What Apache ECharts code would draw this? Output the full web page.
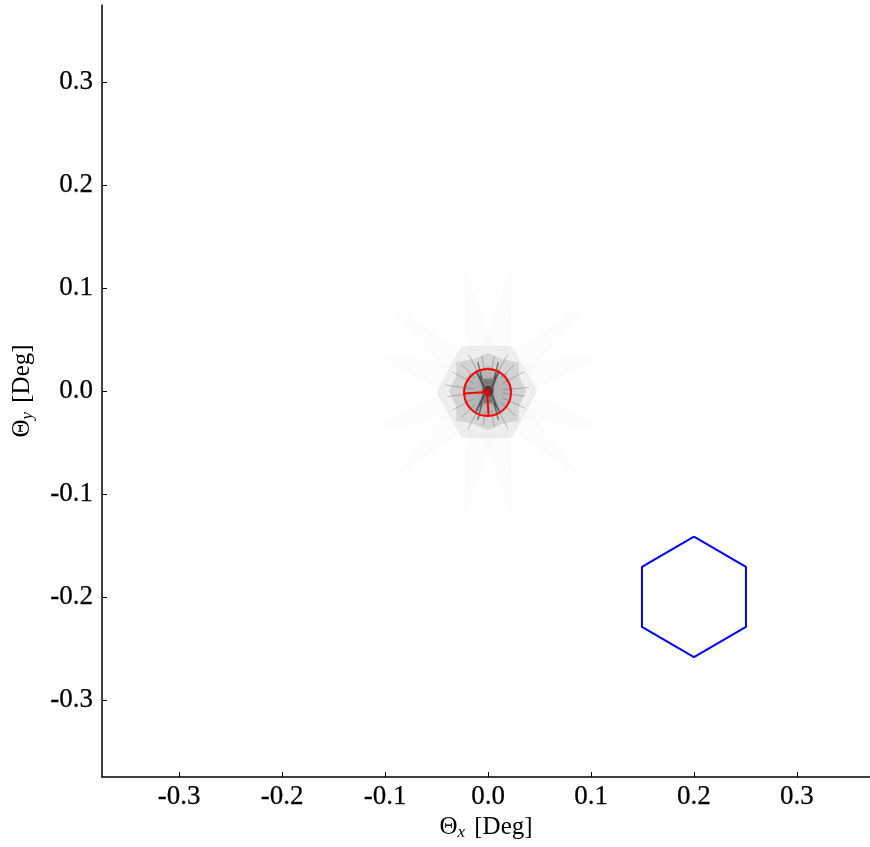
<!DOCTYPE html>
<html>
<head>
<meta charset="utf-8">
<script src="https://cdn.jsdelivr.net/npm/echarts@6/dist/echarts.min.js"></script>
<style>html,body{margin:0;padding:0;background:#fff}#c{width:870px;height:847px}</style>
</head>
<body>
<div id="c"></div>
<script>
// ---- data (degrees) ----
const xTicks = [-0.3, -0.2, -0.1, 0.0, 0.1, 0.2, 0.3];
const yTicks = [-0.3, -0.2, -0.1, 0.0, 0.1, 0.2, 0.3];
const xRange = [-0.375, 0.371];
const yRange = [-0.375, 0.375];

// field-of-view hexagon (blue)
const fovHex = [[0.2, -0.1415], [0.2505, -0.1708], [0.2505, -0.2292], [0.2, -0.2585], [0.1495, -0.2292], [0.1495, -0.1708], [0.2, -0.1415]];

// faint PSF halo: hexagon + 12 diffraction spikes (tips)
const haloHex = [[0.048, 0.0], [0.023, 0.044], [-0.026, 0.044], [-0.050, -0.001], [-0.026, -0.046], [0.023, -0.046]];
const spikeTips = [[-0.024, 0.125], [0.024, 0.125], [-0.098, 0.086], [-0.121, 0.040], [-0.121, -0.041], [-0.095, -0.087],
                   [-0.024, -0.126], [0.024, -0.126], [0.095, -0.087], [0.121, -0.041], [0.121, 0.040], [0.098, 0.086]];
// medium grey core (lobed)
const corePoly = [[0.037, 0.000], [0.030, 0.014], [0.030, 0.028], [0.014, 0.031], [0.000, 0.037], [-0.014, 0.031], [-0.031, 0.028],
                  [-0.031, 0.014], [-0.038, 0.000], [-0.031, -0.015], [-0.031, -0.029], [-0.014, -0.032], [0.000, -0.038],
                  [0.014, -0.032], [0.030, -0.029], [0.030, -0.015]];
const innerPoly = [[0.024, 0.0], [0.018, 0.016], [0.0, 0.024], [-0.019, 0.016], [-0.025, 0.0], [-0.019, -0.017], [0.0, -0.025], [0.018, -0.017]];
// dark hourglass structure
const darkPoly = [[-0.011, 0.019], [-0.005, 0.012], [0.004, 0.012], [0.010, 0.019], [0.006, 0.006], [0.005, -0.006], [0.010, -0.019],
                  [0.004, -0.012], [-0.005, -0.012], [-0.011, -0.019], [-0.006, -0.006], [-0.006, 0.006]];
// dark X arms: [x1, y1, x2, y2]
const darkArms = [[-0.004, 0.004, -0.012, 0.020], [0.004, 0.004, 0.011, 0.020], [-0.004, -0.004, -0.012, -0.020], [0.004, -0.004, 0.011, -0.020],
                  [-0.006, 0.012, -0.010, 0.028], [0.006, 0.012, 0.010, 0.028], [-0.006, -0.012, -0.010, -0.028], [0.006, -0.012, 0.010, -0.028]];
// radial streaks: [angle deg, inner r, outer r]
const streaks = [[5, 0.014, 0.040], [-8, 0.014, 0.036], [28, 0.016, 0.040], [45, 0.018, 0.036], [62, 0.020, 0.040], [80, 0.020, 0.034],
                 [100, 0.020, 0.034], [118, 0.020, 0.040], [135, 0.018, 0.036], [152, 0.016, 0.040], [172, 0.014, 0.042], [188, 0.014, 0.040],
                 [208, 0.016, 0.040], [225, 0.018, 0.036], [242, 0.020, 0.042], [262, 0.020, 0.034], [280, 0.020, 0.036], [298, 0.020, 0.042],
                 [318, 0.016, 0.036], [335, 0.016, 0.040]];

// red circle [cx, cy, r] and its radii
const redCircle = [[-0.0005, -0.0015, 0.0228]];
const redRadiusLeft = [[-0.001, -0.001], [-0.0235, -0.0025]];
const redRadiusDown = [[-0.001, -0.001], [0.0005, -0.0245]];
const redMark1 = [[-0.0045, 0.0025], [0.0025, -0.0040]];
const redMark2 = [[-0.0030, -0.0035], [0.0040, 0.0035]];

const FONT = 'Liberation Serif';

function polySeries(pts, fill, z) {
  return {
    type: 'custom', silent: true, z: z, data: pts,
    renderItem: function (p, api) {
      if (p.dataIndex !== 0) return null;
      return { type: 'polygon', shape: { points: pts.map(q => api.coord(q)) }, style: { fill: fill, shadowBlur: 6, shadowColor: fill } };
    }
  };
}
function lineSeries(pts, color, width, z) {
  return { type: 'line', data: pts, symbol: 'none', silent: true, z: z, lineStyle: { color: color, width: width }, animation: false };
}
function segSeries(segs, color, width, z) {
  return {
    type: 'custom', silent: true, z: z, data: segs,
    renderItem: function (p, api) {
      const a = api.coord([api.value(0), api.value(1)]), b = api.coord([api.value(2), api.value(3)]);
      return { type: 'line', shape: { x1: a[0], y1: a[1], x2: b[0], y2: b[1] }, style: { stroke: color, lineWidth: width } };
    }
  };
}

const chart = echarts.init(document.getElementById('c'), null, { renderer: 'canvas' });
const axisCommon = {
  type: 'value', splitLine: { show: false },
  axisLine: { show: true, onZero: false, lineStyle: { color: '#000', width: 1.5 } },
  axisTick: { show: true, inside: true, length: 5, lineStyle: { color: '#000', width: 1 } },
  nameLocation: 'middle',
};
const labelStyle = { color: '#000', fontFamily: FONT, fontSize: 27, textBorderColor: '#000', textBorderWidth: 0.25 };
const nameRich = {
  t: { fontFamily: FONT, fontSize: 25, color: '#000' },
  s: { fontFamily: FONT, fontSize: 17, fontStyle: 'italic', color: '#000', padding: [10, 3, 0, 0] }
};
const option = {
  animation: false,
  backgroundColor: '#fff',
  grid: { left: 102, right: 0, top: 5, bottom: 70, outerBoundsMode: 'none', containLabel: false },
  xAxis: Object.assign({}, axisCommon, {
    min: xRange[0], max: xRange[1],
    axisTick: Object.assign({}, axisCommon.axisTick, { customValues: xTicks }),
    axisLabel: Object.assign({ customValues: xTicks, formatter: v => v.toFixed(1), margin: 6 }, labelStyle),
    name: '{t|Θ}{s|x}{t| [Deg]}', nameGap: 35,
    nameTextStyle: { rich: nameRich }
  }),
  yAxis: Object.assign({}, axisCommon, {
    min: yRange[0], max: yRange[1],
    axisTick: Object.assign({}, axisCommon.axisTick, { customValues: yTicks }),
    axisLabel: Object.assign({ customValues: yTicks, formatter: v => v.toFixed(1), margin: 9 }, labelStyle),
    name: '{t|Θ}{s|y}{t| [Deg]}', nameGap: 66, nameRotate: 90,
    nameTextStyle: { rich: nameRich }
  }),
  series: [
    {
      type: 'custom', silent: true, z: 1, data: spikeTips,
      renderItem: function (p, api) {
        const tx = api.value(0), ty = api.value(1);
        const L = Math.sqrt(tx * tx + ty * ty), ux = tx / L, uy = ty / L;
        const bx = ux * 0.04, by = uy * 0.04, w = 0.014;
        const pts = [[tx, ty], [bx - uy * w, by + ux * w], [bx + uy * w, by - ux * w]].map(q => api.coord(q));
        return { type: 'polygon', shape: { points: pts }, style: { fill: 'rgba(0,0,0,0.013)', shadowBlur: 8, shadowColor: 'rgba(0,0,0,0.015)' } };
      }
    },
    polySeries(haloHex, 'rgba(0,0,0,0.06)', 2),
    polySeries(corePoly, 'rgba(0,0,0,0.10)', 3),
    polySeries(innerPoly, 'rgba(0,0,0,0.12)', 4),
    {
      type: 'custom', silent: true, z: 5, data: streaks,
      renderItem: function (p, api) {
        const a = api.value(0) * Math.PI / 180, r0 = api.value(1), r1 = api.value(2);
        const c0 = api.coord([r0 * Math.cos(a), r0 * Math.sin(a)]);
        const c1 = api.coord([r1 * Math.cos(a), r1 * Math.sin(a)]);
        return { type: 'line', shape: { x1: c0[0], y1: c0[1], x2: c1[0], y2: c1[1] }, style: { stroke: 'rgba(0,0,0,0.22)', lineWidth: 1 } };
      }
    },
    polySeries(darkPoly, 'rgba(0,0,0,0.28)', 6),
    segSeries(darkArms, 'rgba(0,0,0,0.45)', 1.5, 6),
    {
      type: 'custom', silent: true, z: 7, data: [[0, 0, 0.005]],
      renderItem: function (p, api) {
        const c = api.coord([api.value(0), api.value(1)]);
        const r = api.size([api.value(2), api.value(2)]);
        return { type: 'circle', shape: { cx: c[0], cy: c[1], r: r[0] }, style: { fill: 'rgba(0,0,0,0.5)' } };
      }
    },
    {
      type: 'custom', silent: true, z: 10, data: redCircle,
      renderItem: function (p, api) {
        const c = api.coord([api.value(0), api.value(1)]);
        const s = api.size([api.value(2), api.value(2)]);
        return { type: 'circle', shape: { cx: c[0], cy: c[1], r: (s[0] + s[1]) / 2 }, style: { fill: 'none', stroke: '#ff0000', lineWidth: 2 } };
      }
    },
    lineSeries(redRadiusLeft, '#ff0000', 2, 10),
    lineSeries(redRadiusDown, '#ff0000', 2, 10),
    lineSeries(redMark1, '#ff0000', 1.5, 10),
    lineSeries(redMark2, '#ff0000', 1.5, 10),
    lineSeries(fovHex, '#0000ff', 2, 10)
  ]
};
chart.setOption(option);
</script>
</body>
</html>
